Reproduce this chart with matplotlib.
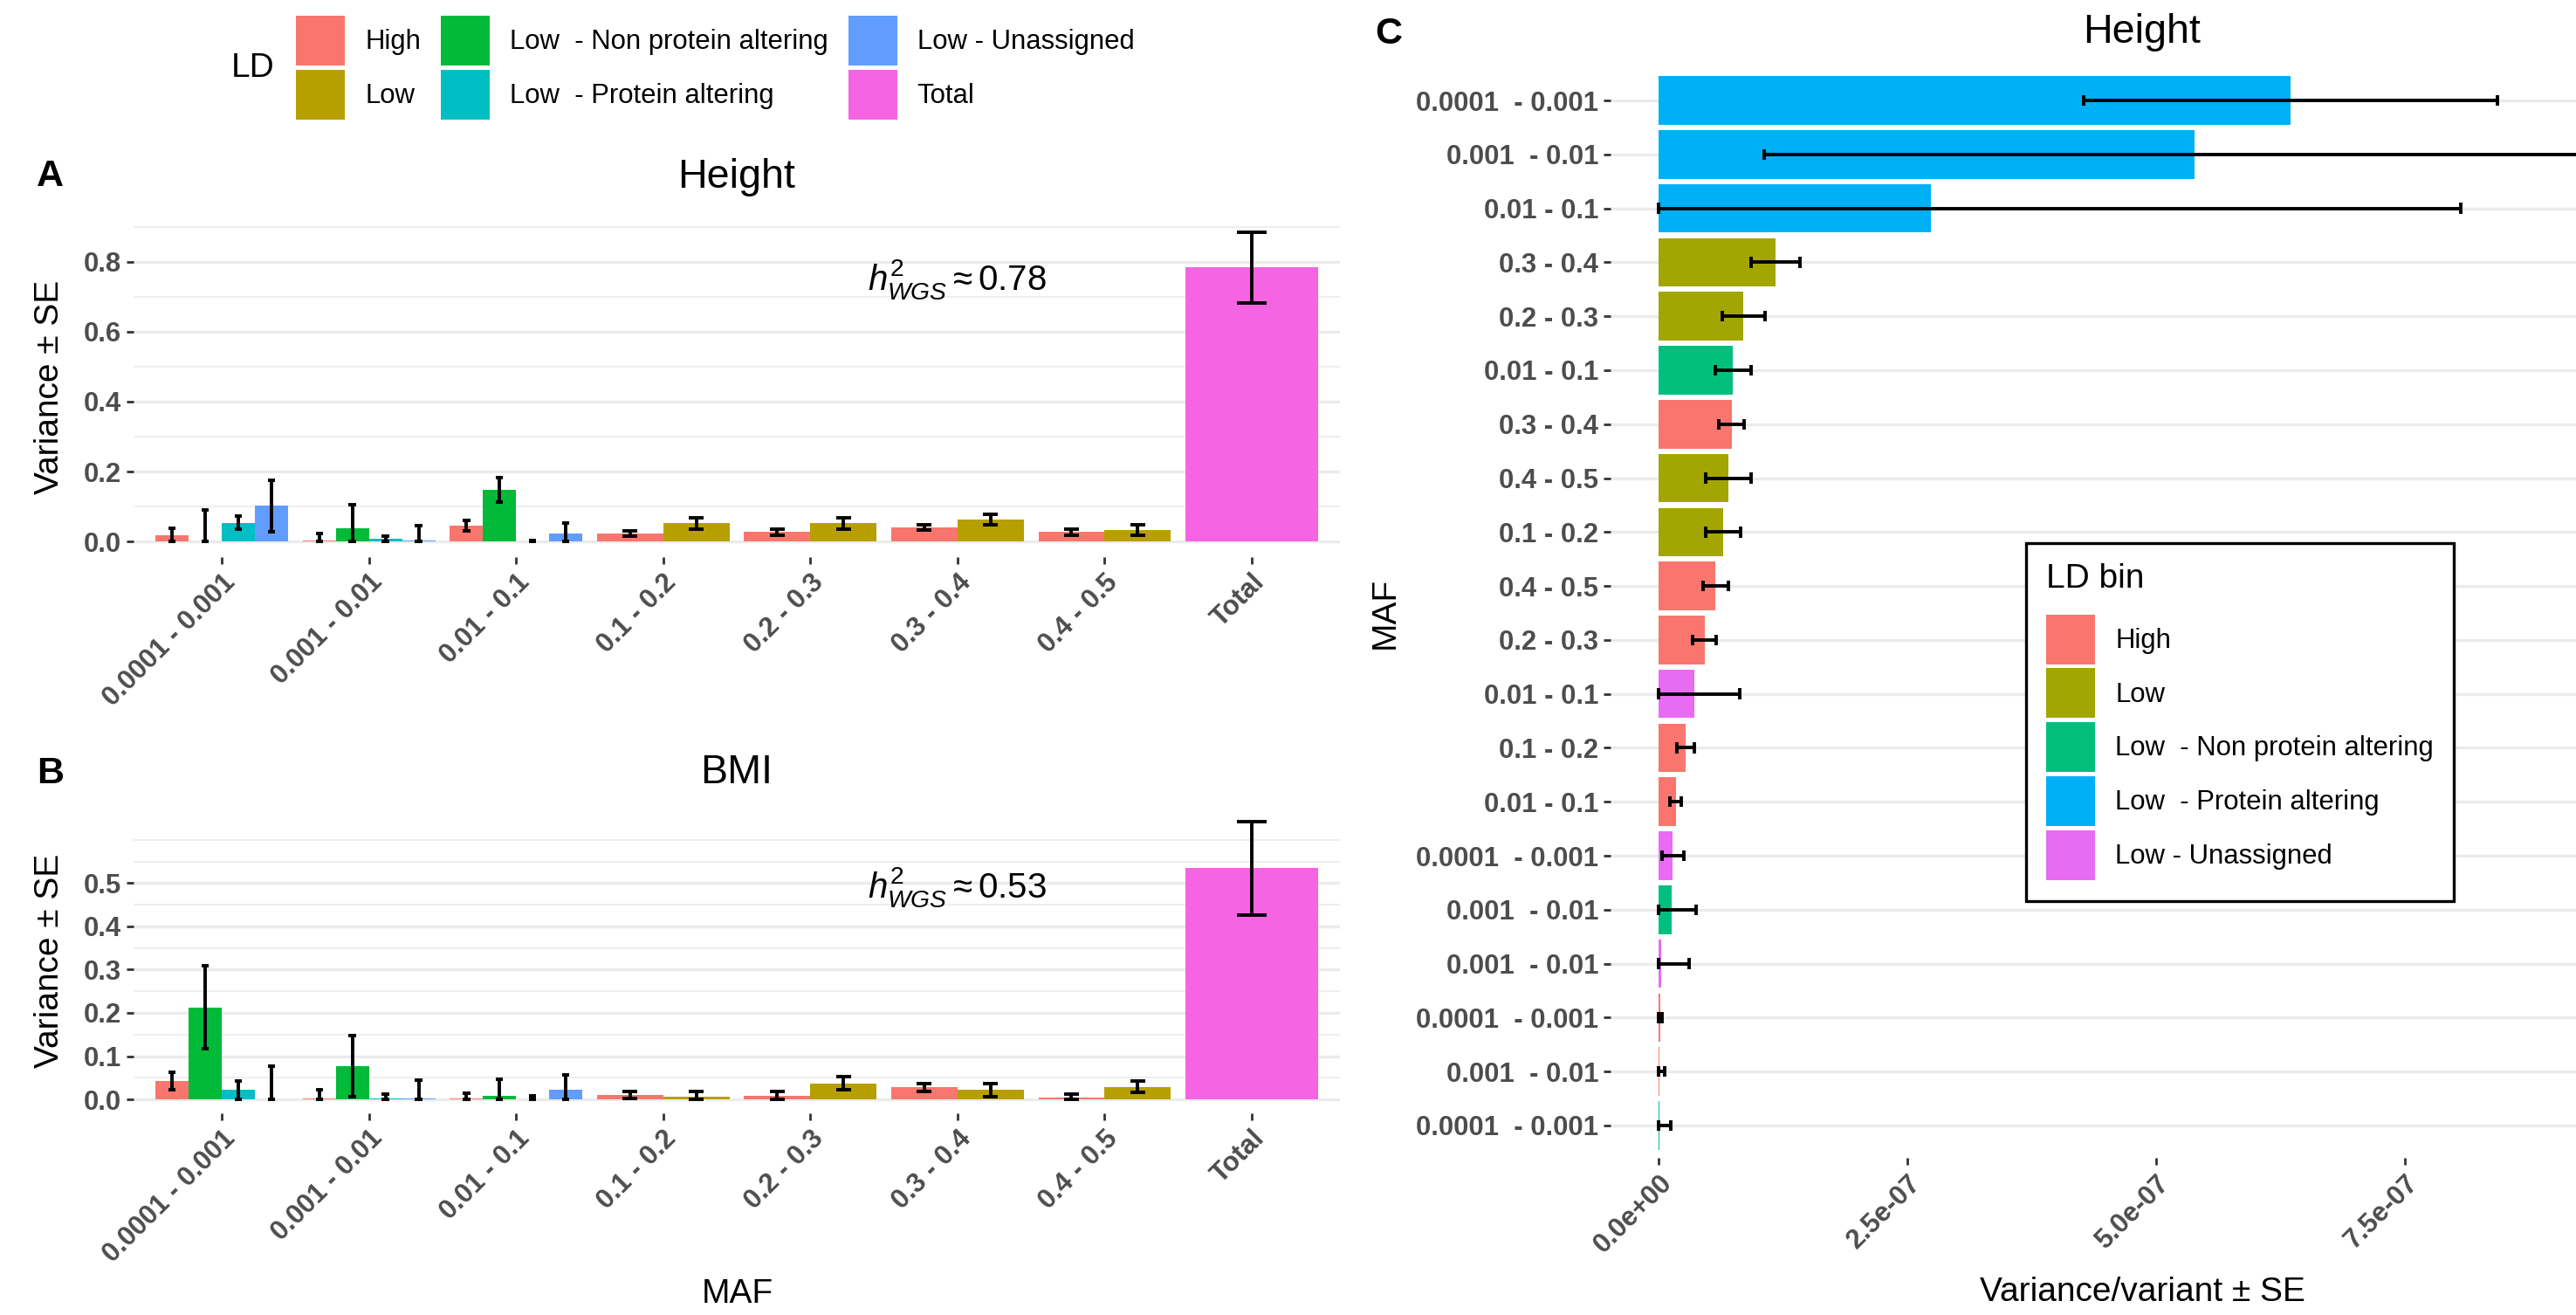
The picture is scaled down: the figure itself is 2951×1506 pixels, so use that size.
import matplotlib.pyplot as plt
import numpy as np
from matplotlib.patches import Patch
from matplotlib.ticker import FixedLocator, MultipleLocator

plt.rcParams['font.family'] = ['Liberation Sans', 'DejaVu Sans']
plt.rcParams['mathtext.fontset'] = 'custom'
plt.rcParams['mathtext.rm'] = 'Liberation Sans'
plt.rcParams['mathtext.it'] = 'Liberation Sans:italic'

# ---- data -----------------------------------------------------------------
maf_bins = ["0.0001 - 0.001", "0.001 - 0.01", "0.01 - 0.1", "0.1 - 0.2",
            "0.2 - 0.3", "0.3 - 0.4", "0.4 - 0.5"]
x_labels = maf_bins + ["Total"]

ld_labels = ["High", "Low", "Low  - Non protein altering",
             "Low  - Protein altering", "Low - Unassigned", "Total"]
ld_colors = ["#F8766D", "#B79F00", "#00BA38", "#00BFC4", "#619CFF", "#F564E3"]

# A: Height
h_high = [0.018, 0.004, 0.046, 0.0225, 0.027, 0.040, 0.027]
h_high_se = [0.020, 0.019, 0.015, 0.008, 0.008, 0.008, 0.008]
h_low = [0.0525, 0.0525, 0.0625, 0.033]          # MAF 0.1 - 0.5
h_low_se = [0.016, 0.016, 0.015, 0.014]
h_nonprot = [0.001, 0.0375, 0.1475]              # MAF < 0.1
h_nonprot_se = [0.090, 0.069, 0.035]
h_prot = [0.054, 0.008, 0.001]
h_prot_se = [0.019, 0.008, 0.003]
h_unas = [0.102, 0.003, 0.0225]
h_unas_se = [0.074, 0.043, 0.030]
h_total, h_total_se = 0.783, 0.1015

# B: BMI
b_high = [0.0427, 0.003, 0.003, 0.0102, 0.009, 0.028, 0.005]
b_high_se = [0.020, 0.019, 0.011, 0.009, 0.009, 0.009, 0.008]
b_low = [0.006, 0.037, 0.0217, 0.029]
b_low_se = [0.012, 0.015, 0.0145, 0.013]
b_nonprot = [0.213, 0.077, 0.009]
b_nonprot_se = [0.095, 0.071, 0.038]
b_prot = [0.022, 0.002, 0.001]
b_prot_se = [0.021, 0.010, 0.007]
b_unas = [0.001, 0.002, 0.0217]
b_unas_se = [0.076, 0.042, 0.034]
b_total, b_total_se = 0.534, 0.108

# C: Height, variance per variant
c_maf = ["0.0001  - 0.001", "0.001  - 0.01", "0.01 - 0.1", "0.3 - 0.4", "0.2 - 0.3",
         "0.01 - 0.1", "0.3 - 0.4", "0.4 - 0.5", "0.1 - 0.2", "0.4 - 0.5",
         "0.2 - 0.3", "0.01 - 0.1", "0.1 - 0.2", "0.01 - 0.1", "0.0001  - 0.001",
         "0.001  - 0.01", "0.001  - 0.01", "0.0001  - 0.001", "0.001  - 0.01",
         "0.0001  - 0.001"]
c_ld = [3, 3, 3, 1, 1, 2, 0, 1, 1, 0, 0, 4, 0, 0, 4, 2, 4, 0, 0, 2]
c_var = np.array([6.35, 5.39, 2.74, 1.17, 0.85, 0.745, 0.73, 0.70, 0.65, 0.57,
                  0.46, 0.36, 0.27, 0.17, 0.14, 0.125, 0.02, 0.01, 0.005, 0.003]) * 1e-7
c_se = np.array([2.08, 4.33, 5.32, 0.245, 0.215, 0.18, 0.13, 0.225, 0.175, 0.125,
                 0.12, 0.45, 0.085, 0.055, 0.11, 0.245, 0.28, 0.02, 0.05, 0.12]) * 1e-7
c_ld_labels = ["High", "Low", "Low  - Non protein altering",
               "Low  - Protein altering", "Low - Unassigned"]
c_colors = ["#F8766D", "#A3A500", "#00BF7D", "#00B0F6", "#E76BF3"]

# ---- layout helpers -------------------------------------------------------
W, H = 2951, 1506
GRID = "#EBEBEB"
TICK_TXT = "#4D4D4D"
ERR_LW = 2.8


def box(left, top, right, bottom):
    return [left / W, 1 - bottom / H, (right - left) / W, (bottom - top) / H]


def style(ax, pad):
    for s in ax.spines.values():
        s.set_visible(False)
    ax.tick_params(which='major', length=6, width=2.0, color="#333333",
                   labelcolor=TICK_TXT, labelsize=22.4, pad=pad)
    ax.tick_params(which='minor', length=0)
    ax.set_axisbelow(True)


def draw_bars(ax, high, high_se, low, low_se, nonprot, nonprot_se, prot, prot_se,
              unas, unas_se, total, total_se):
    groups = []
    for i in range(len(maf_bins)):
        if i < 3:
            groups.append([(0, high[i], high_se[i]), (2, nonprot[i], nonprot_se[i]),
                           (3, prot[i], prot_se[i]), (4, unas[i], unas_se[i])])
        else:
            groups.append([(0, high[i], high_se[i]), (1, low[i - 3], low_se[i - 3])])
    groups.append([(5, total, total_se)])

    top = 0
    for i, grp in enumerate(groups):
        n = len(grp)
        w = 0.9 / n
        for j, (k, v, se) in enumerate(grp):
            xc = i - 0.45 + w * (j + 0.5)
            ax.bar(xc, v, width=w, color=ld_colors[k], linewidth=0, zorder=2)
            lo, hi = max(v - se, 0), v + se
            top = max(top, hi)
            ax.vlines(xc, lo, hi, color='black', lw=ERR_LW, zorder=3)
            ax.hlines([lo, hi], xc - 0.1 / n, xc + 0.1 / n, color='black',
                      lw=ERR_LW, zorder=3)

    ax.set_ylim(-0.05 * top, 1.05 * top)
    ax.set_xlim(-0.6, len(groups) - 0.4)
    ax.set_xticks(range(len(groups)))
    ax.set_xticklabels(x_labels, rotation=45, ha='right', va='top',
                       rotation_mode='anchor', fontweight='bold')
    ax.grid(True, axis='y', which='major', color=GRID, lw=2.4)
    ax.grid(True, axis='y', which='minor', color=GRID, lw=1.2)
    ax.grid(False, axis='x', which='both')
    for lab in ax.get_yticklabels():
        lab.set_fontweight('bold')


fig = plt.figure(figsize=(W / 100, H / 100), dpi=100)

# ---- panel A ----------------------------------------------------------------
axA = fig.add_axes(box(153, 248, 1535, 638))
style(axA, 4)
axA.set_yticks([0, 0.2, 0.4, 0.6, 0.8])
axA.set_yticklabels(["0.0", "0.2", "0.4", "0.6", "0.8"])
axA.yaxis.set_minor_locator(MultipleLocator(0.1))
draw_bars(axA, h_high, h_high_se, h_low, h_low_se, h_nonprot, h_nonprot_se,
          h_prot, h_prot_se, h_unas, h_unas_se, h_total, h_total_se)
axA.set_title("Height", fontsize=33.6, pad=24)
axA.text(5, 0.75, r"$h_{WGS}^{2}\approx$0.78", fontsize=29, ha='center', va='center')

# ---- panel B ----------------------------------------------------------------
axB = fig.add_axes(box(153, 925, 1535, 1275))
style(axB, 4)
axB.set_yticks([0, 0.1, 0.2, 0.3, 0.4, 0.5])
axB.set_yticklabels(["0.0", "0.1", "0.2", "0.3", "0.4", "0.5"])
axB.yaxis.set_minor_locator(FixedLocator([0.05, 0.15, 0.25, 0.35, 0.45, 0.55, 0.6]))
draw_bars(axB, b_high, b_high_se, b_low, b_low_se, b_nonprot, b_nonprot_se,
          b_prot, b_prot_se, b_unas, b_unas_se, b_total, b_total_se)
axB.set_title("BMI", fontsize=33.6, pad=20)
axB.text(5, 0.49, r"$h_{WGS}^{2}\approx$0.53", fontsize=29, ha='center', va='center')

# ---- panel C ----------------------------------------------------------------
axC = fig.add_axes(box(1845, 78, 3063, 1326))
style(axC, 4)
rows = np.arange(len(c_var))
axC.barh(rows, c_var, height=0.9, color=[c_colors[k] for k in c_ld], linewidth=0, zorder=2)
c_lo = np.maximum(c_var - c_se, 0)
c_hi = c_var + c_se
axC.hlines(rows, c_lo, c_hi, color='black', lw=ERR_LW, zorder=3)
axC.vlines(c_lo, rows - 0.1, rows + 0.1, color='black', lw=ERR_LW, zorder=3)
axC.vlines(c_hi, rows - 0.1, rows + 0.1, color='black', lw=ERR_LW, zorder=3)
xr = c_hi.max()
axC.set_xlim(-0.05 * xr, 1.05 * xr)
axC.set_ylim(len(rows) - 0.4, -0.6)
axC.set_yticks(rows)
axC.set_yticklabels(c_maf, fontweight='bold')
xt = [0, 2.5e-7, 5e-7, 7.5e-7]
axC.set_xticks(xt)
axC.set_xticklabels(["%.1e" % v for v in xt], rotation=45, ha='right', va='top',
                    rotation_mode='anchor', fontweight='bold')
axC.grid(True, axis='y', color=GRID, lw=2.4)
axC.grid(False, axis='x')
axC.set_title("Height", fontsize=33.6, pad=21)

c_handles = [Patch(facecolor=c, edgecolor='none') for c in c_colors]
legC = fig.legend(c_handles, c_ld_labels, loc='upper left',
                  bbox_to_anchor=(2321 / W, 1 - 622 / H), title="LD bin",
                  title_fontsize=28, fontsize=22.4, alignment='left',
                  handlelength=1.8, handleheight=2.44, labelspacing=0.16,
                  handletextpad=0.74, borderpad=0.75, borderaxespad=0,
                  fancybox=False, framealpha=1, edgecolor='black')
legC.get_frame().set_linewidth(2.4)
legC._legend_box.sep = 16  # more room between "LD bin" and the keys

# ---- top legend ------------------------------------------------------------
handles = [Patch(facecolor=c, edgecolor='none') for c in ld_colors]
fig.legend(handles, ld_labels, loc='upper left', bbox_to_anchor=(339 / W, 1 - 18 / H),
           ncol=3, frameon=False, fontsize=22.4, handlelength=1.8, handleheight=2.44,
           labelspacing=0.16, handletextpad=0.74, columnspacing=0.74,
           borderpad=0, borderaxespad=0)
fig.text(265 / W, 1 - 78 / H, "LD", fontsize=28, ha='left', va='center')

# ---- axis titles & panel tags ------------------------------------------------
fig.text(57 / W, 1 - 443 / H, "Variance \u00b1 SE", fontsize=28, rotation=90,
         ha='center', va='center')
fig.text(57 / W, 1 - 1100 / H, "Variance \u00b1 SE", fontsize=28, rotation=90,
         ha='center', va='center')
fig.text(845 / W, 1 - 1482 / H, "MAF", fontsize=28, ha='center', va='center')
fig.text(1587 / W, 1 - 702 / H, "MAF", fontsize=28, rotation=90, ha='center', va='center')
fig.text(2454 / W, 1 - 1480 / H, "Variance/variant \u00b1 SE", fontsize=28,
         ha='center', va='center')

fig.text(42 / W, 1 - 213 / H, "A", fontsize=31, fontweight='bold', va='baseline')
fig.text(42 / W, 1 - 897 / H, "B", fontsize=31, fontweight='bold', va='baseline')
fig.text(1575 / W, 1 - 50 / H, "C", fontsize=31, fontweight='bold', va='baseline')

fig.savefig("out.png", dpi=100)
plt.close(fig)
